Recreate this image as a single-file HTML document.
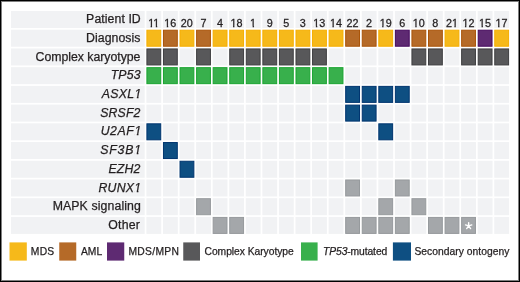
<!DOCTYPE html>
<html><head><meta charset="utf-8"><style>
html,body{margin:0;padding:0;background:#fff;}
body{width:520px;height:282px;overflow:hidden;position:relative;}
svg{position:absolute;left:0;top:0;font-family:"Liberation Sans",sans-serif;will-change:transform;}
text{fill:#231f20;stroke:#231f20;stroke-width:0.25px;}
</style></head><body>
<svg width="520" height="282" viewBox="0 0 520 282">
<rect x="0" y="0" width="520" height="282" fill="#fff"/>
<rect x="11.0" y="11.00" width="133.70" height="17.0" fill="#F1F2F4"/>
<text x="86.12" y="23.10" font-size="12.3" textLength="54.64" lengthAdjust="spacing">Patient ID</text>
<rect x="146.40" y="11.00" width="14.83" height="17.0" fill="#F1F2F4"/>
<text transform="translate(153.72 27.00) scale(1.08 1)" text-anchor="middle" font-size="10.0" stroke="#231f20" stroke-width="0.2">11</text>
<rect x="162.97" y="11.00" width="14.83" height="17.0" fill="#F1F2F4"/>
<text transform="translate(170.28 27.00) scale(1.08 1)" text-anchor="middle" font-size="10.0" stroke="#231f20" stroke-width="0.2">16</text>
<rect x="179.53" y="11.00" width="14.83" height="17.0" fill="#F1F2F4"/>
<text transform="translate(186.84 27.00) scale(1.08 1)" text-anchor="middle" font-size="10.0" stroke="#231f20" stroke-width="0.2">20</text>
<rect x="196.10" y="11.00" width="14.83" height="17.0" fill="#F1F2F4"/>
<text transform="translate(203.41 27.00) scale(1.08 1)" text-anchor="middle" font-size="10.0" stroke="#231f20" stroke-width="0.2">7</text>
<rect x="212.66" y="11.00" width="14.83" height="17.0" fill="#F1F2F4"/>
<text transform="translate(219.98 27.00) scale(1.08 1)" text-anchor="middle" font-size="10.0" stroke="#231f20" stroke-width="0.2">4</text>
<rect x="229.23" y="11.00" width="14.83" height="17.0" fill="#F1F2F4"/>
<text transform="translate(236.54 27.00) scale(1.08 1)" text-anchor="middle" font-size="10.0" stroke="#231f20" stroke-width="0.2">18</text>
<rect x="245.79" y="11.00" width="14.83" height="17.0" fill="#F1F2F4"/>
<text transform="translate(253.11 27.00) scale(1.08 1)" text-anchor="middle" font-size="10.0" stroke="#231f20" stroke-width="0.2">1</text>
<rect x="262.36" y="11.00" width="14.83" height="17.0" fill="#F1F2F4"/>
<text transform="translate(269.67 27.00) scale(1.08 1)" text-anchor="middle" font-size="10.0" stroke="#231f20" stroke-width="0.2">9</text>
<rect x="278.92" y="11.00" width="14.83" height="17.0" fill="#F1F2F4"/>
<text transform="translate(286.24 27.00) scale(1.08 1)" text-anchor="middle" font-size="10.0" stroke="#231f20" stroke-width="0.2">5</text>
<rect x="295.49" y="11.00" width="14.83" height="17.0" fill="#F1F2F4"/>
<text transform="translate(302.80 27.00) scale(1.08 1)" text-anchor="middle" font-size="10.0" stroke="#231f20" stroke-width="0.2">3</text>
<rect x="312.05" y="11.00" width="14.83" height="17.0" fill="#F1F2F4"/>
<text transform="translate(319.37 27.00) scale(1.08 1)" text-anchor="middle" font-size="10.0" stroke="#231f20" stroke-width="0.2">13</text>
<rect x="328.62" y="11.00" width="14.83" height="17.0" fill="#F1F2F4"/>
<text transform="translate(335.93 27.00) scale(1.08 1)" text-anchor="middle" font-size="10.0" stroke="#231f20" stroke-width="0.2">14</text>
<rect x="345.18" y="11.00" width="14.83" height="17.0" fill="#F1F2F4"/>
<text transform="translate(352.50 27.00) scale(1.08 1)" text-anchor="middle" font-size="10.0" stroke="#231f20" stroke-width="0.2">22</text>
<rect x="361.75" y="11.00" width="14.83" height="17.0" fill="#F1F2F4"/>
<text transform="translate(369.06 27.00) scale(1.08 1)" text-anchor="middle" font-size="10.0" stroke="#231f20" stroke-width="0.2">2</text>
<rect x="378.31" y="11.00" width="14.83" height="17.0" fill="#F1F2F4"/>
<text transform="translate(385.63 27.00) scale(1.08 1)" text-anchor="middle" font-size="10.0" stroke="#231f20" stroke-width="0.2">19</text>
<rect x="394.88" y="11.00" width="14.83" height="17.0" fill="#F1F2F4"/>
<text transform="translate(402.19 27.00) scale(1.08 1)" text-anchor="middle" font-size="10.0" stroke="#231f20" stroke-width="0.2">6</text>
<rect x="411.44" y="11.00" width="14.83" height="17.0" fill="#F1F2F4"/>
<text transform="translate(418.76 27.00) scale(1.08 1)" text-anchor="middle" font-size="10.0" stroke="#231f20" stroke-width="0.2">10</text>
<rect x="428.00" y="11.00" width="14.83" height="17.0" fill="#F1F2F4"/>
<text transform="translate(435.32 27.00) scale(1.08 1)" text-anchor="middle" font-size="10.0" stroke="#231f20" stroke-width="0.2">8</text>
<rect x="444.57" y="11.00" width="14.83" height="17.0" fill="#F1F2F4"/>
<text transform="translate(451.89 27.00) scale(1.08 1)" text-anchor="middle" font-size="10.0" stroke="#231f20" stroke-width="0.2">21</text>
<rect x="461.13" y="11.00" width="14.83" height="17.0" fill="#F1F2F4"/>
<text transform="translate(468.45 27.00) scale(1.08 1)" text-anchor="middle" font-size="10.0" stroke="#231f20" stroke-width="0.2">12</text>
<rect x="477.70" y="11.00" width="14.83" height="17.0" fill="#F1F2F4"/>
<text transform="translate(485.02 27.00) scale(1.08 1)" text-anchor="middle" font-size="10.0" stroke="#231f20" stroke-width="0.2">15</text>
<rect x="494.26" y="11.00" width="14.83" height="17.0" fill="#F1F2F4"/>
<text transform="translate(501.58 27.00) scale(1.08 1)" text-anchor="middle" font-size="10.0" stroke="#231f20" stroke-width="0.2">17</text>
<rect x="11.0" y="29.72" width="133.70" height="17.0" fill="#F1F2F4"/>
<text x="86.12" y="41.82" font-size="12.3" textLength="54.38" lengthAdjust="spacing">Diagnosis</text>
<rect x="146.90" y="30.22" width="13.83" height="16.00" fill="#F6B91A" stroke="#f5ae00" stroke-width="1.0"/>
<rect x="163.47" y="30.22" width="13.83" height="16.00" fill="#B56A28" stroke="#aa5408" stroke-width="1.0"/>
<rect x="180.03" y="30.22" width="13.83" height="16.00" fill="#F6B91A" stroke="#f5ae00" stroke-width="1.0"/>
<rect x="196.60" y="30.22" width="13.83" height="16.00" fill="#B56A28" stroke="#aa5408" stroke-width="1.0"/>
<rect x="213.16" y="30.22" width="13.83" height="16.00" fill="#F6B91A" stroke="#f5ae00" stroke-width="1.0"/>
<rect x="229.73" y="30.22" width="13.83" height="16.00" fill="#F6B91A" stroke="#f5ae00" stroke-width="1.0"/>
<rect x="246.29" y="30.22" width="13.83" height="16.00" fill="#F6B91A" stroke="#f5ae00" stroke-width="1.0"/>
<rect x="262.86" y="30.22" width="13.83" height="16.00" fill="#F6B91A" stroke="#f5ae00" stroke-width="1.0"/>
<rect x="279.42" y="30.22" width="13.83" height="16.00" fill="#F6B91A" stroke="#f5ae00" stroke-width="1.0"/>
<rect x="295.99" y="30.22" width="13.83" height="16.00" fill="#F6B91A" stroke="#f5ae00" stroke-width="1.0"/>
<rect x="312.55" y="30.22" width="13.83" height="16.00" fill="#F6B91A" stroke="#f5ae00" stroke-width="1.0"/>
<rect x="329.12" y="30.22" width="13.83" height="16.00" fill="#F6B91A" stroke="#f5ae00" stroke-width="1.0"/>
<rect x="345.68" y="30.22" width="13.83" height="16.00" fill="#B56A28" stroke="#aa5408" stroke-width="1.0"/>
<rect x="362.25" y="30.22" width="13.83" height="16.00" fill="#B56A28" stroke="#aa5408" stroke-width="1.0"/>
<rect x="378.81" y="30.22" width="13.83" height="16.00" fill="#F6B91A" stroke="#f5ae00" stroke-width="1.0"/>
<rect x="395.38" y="30.22" width="13.83" height="16.00" fill="#5E2A72" stroke="#460a5d" stroke-width="1.0"/>
<rect x="411.94" y="30.22" width="13.83" height="16.00" fill="#B56A28" stroke="#aa5408" stroke-width="1.0"/>
<rect x="428.50" y="30.22" width="13.83" height="16.00" fill="#B56A28" stroke="#aa5408" stroke-width="1.0"/>
<rect x="445.07" y="30.22" width="13.83" height="16.00" fill="#F6B91A" stroke="#f5ae00" stroke-width="1.0"/>
<rect x="461.63" y="30.22" width="13.83" height="16.00" fill="#B56A28" stroke="#aa5408" stroke-width="1.0"/>
<rect x="478.20" y="30.22" width="13.83" height="16.00" fill="#5E2A72" stroke="#460a5d" stroke-width="1.0"/>
<rect x="494.76" y="30.22" width="13.83" height="16.00" fill="#F6B91A" stroke="#f5ae00" stroke-width="1.0"/>
<rect x="11.0" y="48.44" width="133.70" height="17.0" fill="#F1F2F4"/>
<text x="35.55" y="60.54" font-size="12.3" textLength="104.90" lengthAdjust="spacing">Complex karyotype</text>
<rect x="146.90" y="48.94" width="13.83" height="16.00" fill="#58585A" stroke="#3f3f41" stroke-width="1.0"/>
<rect x="163.47" y="48.94" width="13.83" height="16.00" fill="#58585A" stroke="#3f3f41" stroke-width="1.0"/>
<rect x="179.53" y="48.44" width="14.83" height="17.0" fill="#F1F2F4"/>
<rect x="196.60" y="48.94" width="13.83" height="16.00" fill="#58585A" stroke="#3f3f41" stroke-width="1.0"/>
<rect x="212.66" y="48.44" width="14.83" height="17.0" fill="#F1F2F4"/>
<rect x="229.73" y="48.94" width="13.83" height="16.00" fill="#58585A" stroke="#3f3f41" stroke-width="1.0"/>
<rect x="246.29" y="48.94" width="13.83" height="16.00" fill="#58585A" stroke="#3f3f41" stroke-width="1.0"/>
<rect x="262.86" y="48.94" width="13.83" height="16.00" fill="#58585A" stroke="#3f3f41" stroke-width="1.0"/>
<rect x="279.42" y="48.94" width="13.83" height="16.00" fill="#58585A" stroke="#3f3f41" stroke-width="1.0"/>
<rect x="295.99" y="48.94" width="13.83" height="16.00" fill="#58585A" stroke="#3f3f41" stroke-width="1.0"/>
<rect x="312.55" y="48.94" width="13.83" height="16.00" fill="#58585A" stroke="#3f3f41" stroke-width="1.0"/>
<rect x="328.62" y="48.44" width="14.83" height="17.0" fill="#F1F2F4"/>
<rect x="345.18" y="48.44" width="14.83" height="17.0" fill="#F1F2F4"/>
<rect x="361.75" y="48.44" width="14.83" height="17.0" fill="#F1F2F4"/>
<rect x="378.31" y="48.44" width="14.83" height="17.0" fill="#F1F2F4"/>
<rect x="394.88" y="48.44" width="14.83" height="17.0" fill="#F1F2F4"/>
<rect x="411.94" y="48.94" width="13.83" height="16.00" fill="#58585A" stroke="#3f3f41" stroke-width="1.0"/>
<rect x="428.50" y="48.94" width="13.83" height="16.00" fill="#58585A" stroke="#3f3f41" stroke-width="1.0"/>
<rect x="444.57" y="48.44" width="14.83" height="17.0" fill="#F1F2F4"/>
<rect x="461.63" y="48.94" width="13.83" height="16.00" fill="#58585A" stroke="#3f3f41" stroke-width="1.0"/>
<rect x="478.20" y="48.94" width="13.83" height="16.00" fill="#58585A" stroke="#3f3f41" stroke-width="1.0"/>
<rect x="494.76" y="48.94" width="13.83" height="16.00" fill="#58585A" stroke="#3f3f41" stroke-width="1.0"/>
<rect x="11.0" y="67.16" width="133.70" height="17.0" fill="#F1F2F4"/>
<text x="110.64" y="79.26" font-size="12.3" textLength="29.84" lengthAdjust="spacing" font-style="italic">TP53</text>
<rect x="146.90" y="67.66" width="13.83" height="16.00" fill="#38B04C" stroke="#1aa431" stroke-width="1.0"/>
<rect x="163.47" y="67.66" width="13.83" height="16.00" fill="#38B04C" stroke="#1aa431" stroke-width="1.0"/>
<rect x="180.03" y="67.66" width="13.83" height="16.00" fill="#38B04C" stroke="#1aa431" stroke-width="1.0"/>
<rect x="196.60" y="67.66" width="13.83" height="16.00" fill="#38B04C" stroke="#1aa431" stroke-width="1.0"/>
<rect x="213.16" y="67.66" width="13.83" height="16.00" fill="#38B04C" stroke="#1aa431" stroke-width="1.0"/>
<rect x="229.73" y="67.66" width="13.83" height="16.00" fill="#38B04C" stroke="#1aa431" stroke-width="1.0"/>
<rect x="246.29" y="67.66" width="13.83" height="16.00" fill="#38B04C" stroke="#1aa431" stroke-width="1.0"/>
<rect x="262.86" y="67.66" width="13.83" height="16.00" fill="#38B04C" stroke="#1aa431" stroke-width="1.0"/>
<rect x="279.42" y="67.66" width="13.83" height="16.00" fill="#38B04C" stroke="#1aa431" stroke-width="1.0"/>
<rect x="295.99" y="67.66" width="13.83" height="16.00" fill="#38B04C" stroke="#1aa431" stroke-width="1.0"/>
<rect x="312.55" y="67.66" width="13.83" height="16.00" fill="#38B04C" stroke="#1aa431" stroke-width="1.0"/>
<rect x="329.12" y="67.66" width="13.83" height="16.00" fill="#38B04C" stroke="#1aa431" stroke-width="1.0"/>
<rect x="345.18" y="67.16" width="14.83" height="17.0" fill="#F1F2F4"/>
<rect x="361.75" y="67.16" width="14.83" height="17.0" fill="#F1F2F4"/>
<rect x="378.31" y="67.16" width="14.83" height="17.0" fill="#F1F2F4"/>
<rect x="394.88" y="67.16" width="14.83" height="17.0" fill="#F1F2F4"/>
<rect x="411.44" y="67.16" width="14.83" height="17.0" fill="#F1F2F4"/>
<rect x="428.00" y="67.16" width="14.83" height="17.0" fill="#F1F2F4"/>
<rect x="444.57" y="67.16" width="14.83" height="17.0" fill="#F1F2F4"/>
<rect x="461.13" y="67.16" width="14.83" height="17.0" fill="#F1F2F4"/>
<rect x="477.70" y="67.16" width="14.83" height="17.0" fill="#F1F2F4"/>
<rect x="494.26" y="67.16" width="14.83" height="17.0" fill="#F1F2F4"/>
<rect x="11.0" y="85.88" width="133.70" height="17.0" fill="#F1F2F4"/>
<text x="101.75" y="97.98" font-size="12.3" textLength="39.51" lengthAdjust="spacing" font-style="italic">ASXL1</text>
<rect x="146.40" y="85.88" width="14.83" height="17.0" fill="#F1F2F4"/>
<rect x="162.97" y="85.88" width="14.83" height="17.0" fill="#F1F2F4"/>
<rect x="179.53" y="85.88" width="14.83" height="17.0" fill="#F1F2F4"/>
<rect x="196.10" y="85.88" width="14.83" height="17.0" fill="#F1F2F4"/>
<rect x="212.66" y="85.88" width="14.83" height="17.0" fill="#F1F2F4"/>
<rect x="229.23" y="85.88" width="14.83" height="17.0" fill="#F1F2F4"/>
<rect x="245.79" y="85.88" width="14.83" height="17.0" fill="#F1F2F4"/>
<rect x="262.36" y="85.88" width="14.83" height="17.0" fill="#F1F2F4"/>
<rect x="278.92" y="85.88" width="14.83" height="17.0" fill="#F1F2F4"/>
<rect x="295.49" y="85.88" width="14.83" height="17.0" fill="#F1F2F4"/>
<rect x="312.05" y="85.88" width="14.83" height="17.0" fill="#F1F2F4"/>
<rect x="328.62" y="85.88" width="14.83" height="17.0" fill="#F1F2F4"/>
<rect x="345.68" y="86.38" width="13.83" height="16.00" fill="#0E4F82" stroke="#00356f" stroke-width="1.0"/>
<rect x="362.25" y="86.38" width="13.83" height="16.00" fill="#0E4F82" stroke="#00356f" stroke-width="1.0"/>
<rect x="378.81" y="86.38" width="13.83" height="16.00" fill="#0E4F82" stroke="#00356f" stroke-width="1.0"/>
<rect x="395.38" y="86.38" width="13.83" height="16.00" fill="#0E4F82" stroke="#00356f" stroke-width="1.0"/>
<rect x="411.44" y="85.88" width="14.83" height="17.0" fill="#F1F2F4"/>
<rect x="428.00" y="85.88" width="14.83" height="17.0" fill="#F1F2F4"/>
<rect x="444.57" y="85.88" width="14.83" height="17.0" fill="#F1F2F4"/>
<rect x="461.13" y="85.88" width="14.83" height="17.0" fill="#F1F2F4"/>
<rect x="477.70" y="85.88" width="14.83" height="17.0" fill="#F1F2F4"/>
<rect x="494.26" y="85.88" width="14.83" height="17.0" fill="#F1F2F4"/>
<rect x="11.0" y="104.60" width="133.70" height="17.0" fill="#F1F2F4"/>
<text x="100.16" y="116.70" font-size="12.3" textLength="40.27" lengthAdjust="spacing" font-style="italic">SRSF2</text>
<rect x="146.40" y="104.60" width="14.83" height="17.0" fill="#F1F2F4"/>
<rect x="162.97" y="104.60" width="14.83" height="17.0" fill="#F1F2F4"/>
<rect x="179.53" y="104.60" width="14.83" height="17.0" fill="#F1F2F4"/>
<rect x="196.10" y="104.60" width="14.83" height="17.0" fill="#F1F2F4"/>
<rect x="212.66" y="104.60" width="14.83" height="17.0" fill="#F1F2F4"/>
<rect x="229.23" y="104.60" width="14.83" height="17.0" fill="#F1F2F4"/>
<rect x="245.79" y="104.60" width="14.83" height="17.0" fill="#F1F2F4"/>
<rect x="262.36" y="104.60" width="14.83" height="17.0" fill="#F1F2F4"/>
<rect x="278.92" y="104.60" width="14.83" height="17.0" fill="#F1F2F4"/>
<rect x="295.49" y="104.60" width="14.83" height="17.0" fill="#F1F2F4"/>
<rect x="312.05" y="104.60" width="14.83" height="17.0" fill="#F1F2F4"/>
<rect x="328.62" y="104.60" width="14.83" height="17.0" fill="#F1F2F4"/>
<rect x="345.68" y="105.10" width="13.83" height="16.00" fill="#0E4F82" stroke="#00356f" stroke-width="1.0"/>
<rect x="362.25" y="105.10" width="13.83" height="16.00" fill="#0E4F82" stroke="#00356f" stroke-width="1.0"/>
<rect x="378.31" y="104.60" width="14.83" height="17.0" fill="#F1F2F4"/>
<rect x="394.88" y="104.60" width="14.83" height="17.0" fill="#F1F2F4"/>
<rect x="411.44" y="104.60" width="14.83" height="17.0" fill="#F1F2F4"/>
<rect x="428.00" y="104.60" width="14.83" height="17.0" fill="#F1F2F4"/>
<rect x="444.57" y="104.60" width="14.83" height="17.0" fill="#F1F2F4"/>
<rect x="461.13" y="104.60" width="14.83" height="17.0" fill="#F1F2F4"/>
<rect x="477.70" y="104.60" width="14.83" height="17.0" fill="#F1F2F4"/>
<rect x="494.26" y="104.60" width="14.83" height="17.0" fill="#F1F2F4"/>
<rect x="11.0" y="123.32" width="133.70" height="17.0" fill="#F1F2F4"/>
<text x="100.66" y="135.42" font-size="12.3" textLength="40.57" lengthAdjust="spacing" font-style="italic">U2AF1</text>
<rect x="146.90" y="123.82" width="13.83" height="16.00" fill="#0E4F82" stroke="#00356f" stroke-width="1.0"/>
<rect x="162.97" y="123.32" width="14.83" height="17.0" fill="#F1F2F4"/>
<rect x="179.53" y="123.32" width="14.83" height="17.0" fill="#F1F2F4"/>
<rect x="196.10" y="123.32" width="14.83" height="17.0" fill="#F1F2F4"/>
<rect x="212.66" y="123.32" width="14.83" height="17.0" fill="#F1F2F4"/>
<rect x="229.23" y="123.32" width="14.83" height="17.0" fill="#F1F2F4"/>
<rect x="245.79" y="123.32" width="14.83" height="17.0" fill="#F1F2F4"/>
<rect x="262.36" y="123.32" width="14.83" height="17.0" fill="#F1F2F4"/>
<rect x="278.92" y="123.32" width="14.83" height="17.0" fill="#F1F2F4"/>
<rect x="295.49" y="123.32" width="14.83" height="17.0" fill="#F1F2F4"/>
<rect x="312.05" y="123.32" width="14.83" height="17.0" fill="#F1F2F4"/>
<rect x="328.62" y="123.32" width="14.83" height="17.0" fill="#F1F2F4"/>
<rect x="345.18" y="123.32" width="14.83" height="17.0" fill="#F1F2F4"/>
<rect x="361.75" y="123.32" width="14.83" height="17.0" fill="#F1F2F4"/>
<rect x="378.81" y="123.82" width="13.83" height="16.00" fill="#0E4F82" stroke="#00356f" stroke-width="1.0"/>
<rect x="394.88" y="123.32" width="14.83" height="17.0" fill="#F1F2F4"/>
<rect x="411.44" y="123.32" width="14.83" height="17.0" fill="#F1F2F4"/>
<rect x="428.00" y="123.32" width="14.83" height="17.0" fill="#F1F2F4"/>
<rect x="444.57" y="123.32" width="14.83" height="17.0" fill="#F1F2F4"/>
<rect x="461.13" y="123.32" width="14.83" height="17.0" fill="#F1F2F4"/>
<rect x="477.70" y="123.32" width="14.83" height="17.0" fill="#F1F2F4"/>
<rect x="494.26" y="123.32" width="14.83" height="17.0" fill="#F1F2F4"/>
<rect x="11.0" y="142.04" width="133.70" height="17.0" fill="#F1F2F4"/>
<text x="100.20" y="154.14" font-size="12.3" textLength="40.95" lengthAdjust="spacing" font-style="italic">SF3B1</text>
<rect x="146.40" y="142.04" width="14.83" height="17.0" fill="#F1F2F4"/>
<rect x="163.47" y="142.54" width="13.83" height="16.00" fill="#0E4F82" stroke="#00356f" stroke-width="1.0"/>
<rect x="179.53" y="142.04" width="14.83" height="17.0" fill="#F1F2F4"/>
<rect x="196.10" y="142.04" width="14.83" height="17.0" fill="#F1F2F4"/>
<rect x="212.66" y="142.04" width="14.83" height="17.0" fill="#F1F2F4"/>
<rect x="229.23" y="142.04" width="14.83" height="17.0" fill="#F1F2F4"/>
<rect x="245.79" y="142.04" width="14.83" height="17.0" fill="#F1F2F4"/>
<rect x="262.36" y="142.04" width="14.83" height="17.0" fill="#F1F2F4"/>
<rect x="278.92" y="142.04" width="14.83" height="17.0" fill="#F1F2F4"/>
<rect x="295.49" y="142.04" width="14.83" height="17.0" fill="#F1F2F4"/>
<rect x="312.05" y="142.04" width="14.83" height="17.0" fill="#F1F2F4"/>
<rect x="328.62" y="142.04" width="14.83" height="17.0" fill="#F1F2F4"/>
<rect x="345.18" y="142.04" width="14.83" height="17.0" fill="#F1F2F4"/>
<rect x="361.75" y="142.04" width="14.83" height="17.0" fill="#F1F2F4"/>
<rect x="378.31" y="142.04" width="14.83" height="17.0" fill="#F1F2F4"/>
<rect x="394.88" y="142.04" width="14.83" height="17.0" fill="#F1F2F4"/>
<rect x="411.44" y="142.04" width="14.83" height="17.0" fill="#F1F2F4"/>
<rect x="428.00" y="142.04" width="14.83" height="17.0" fill="#F1F2F4"/>
<rect x="444.57" y="142.04" width="14.83" height="17.0" fill="#F1F2F4"/>
<rect x="461.13" y="142.04" width="14.83" height="17.0" fill="#F1F2F4"/>
<rect x="477.70" y="142.04" width="14.83" height="17.0" fill="#F1F2F4"/>
<rect x="494.26" y="142.04" width="14.83" height="17.0" fill="#F1F2F4"/>
<rect x="11.0" y="160.76" width="133.70" height="17.0" fill="#F1F2F4"/>
<text x="108.41" y="172.86" font-size="12.3" textLength="32.05" lengthAdjust="spacing" font-style="italic">EZH2</text>
<rect x="146.40" y="160.76" width="14.83" height="17.0" fill="#F1F2F4"/>
<rect x="162.97" y="160.76" width="14.83" height="17.0" fill="#F1F2F4"/>
<rect x="180.03" y="161.26" width="13.83" height="16.00" fill="#0E4F82" stroke="#00356f" stroke-width="1.0"/>
<rect x="196.10" y="160.76" width="14.83" height="17.0" fill="#F1F2F4"/>
<rect x="212.66" y="160.76" width="14.83" height="17.0" fill="#F1F2F4"/>
<rect x="229.23" y="160.76" width="14.83" height="17.0" fill="#F1F2F4"/>
<rect x="245.79" y="160.76" width="14.83" height="17.0" fill="#F1F2F4"/>
<rect x="262.36" y="160.76" width="14.83" height="17.0" fill="#F1F2F4"/>
<rect x="278.92" y="160.76" width="14.83" height="17.0" fill="#F1F2F4"/>
<rect x="295.49" y="160.76" width="14.83" height="17.0" fill="#F1F2F4"/>
<rect x="312.05" y="160.76" width="14.83" height="17.0" fill="#F1F2F4"/>
<rect x="328.62" y="160.76" width="14.83" height="17.0" fill="#F1F2F4"/>
<rect x="345.18" y="160.76" width="14.83" height="17.0" fill="#F1F2F4"/>
<rect x="361.75" y="160.76" width="14.83" height="17.0" fill="#F1F2F4"/>
<rect x="378.31" y="160.76" width="14.83" height="17.0" fill="#F1F2F4"/>
<rect x="394.88" y="160.76" width="14.83" height="17.0" fill="#F1F2F4"/>
<rect x="411.44" y="160.76" width="14.83" height="17.0" fill="#F1F2F4"/>
<rect x="428.00" y="160.76" width="14.83" height="17.0" fill="#F1F2F4"/>
<rect x="444.57" y="160.76" width="14.83" height="17.0" fill="#F1F2F4"/>
<rect x="461.13" y="160.76" width="14.83" height="17.0" fill="#F1F2F4"/>
<rect x="477.70" y="160.76" width="14.83" height="17.0" fill="#F1F2F4"/>
<rect x="494.26" y="160.76" width="14.83" height="17.0" fill="#F1F2F4"/>
<rect x="11.0" y="179.48" width="133.70" height="17.0" fill="#F1F2F4"/>
<text x="98.41" y="191.58" font-size="12.3" textLength="42.76" lengthAdjust="spacing" font-style="italic">RUNX1</text>
<rect x="146.40" y="179.48" width="14.83" height="17.0" fill="#F1F2F4"/>
<rect x="162.97" y="179.48" width="14.83" height="17.0" fill="#F1F2F4"/>
<rect x="179.53" y="179.48" width="14.83" height="17.0" fill="#F1F2F4"/>
<rect x="196.10" y="179.48" width="14.83" height="17.0" fill="#F1F2F4"/>
<rect x="212.66" y="179.48" width="14.83" height="17.0" fill="#F1F2F4"/>
<rect x="229.23" y="179.48" width="14.83" height="17.0" fill="#F1F2F4"/>
<rect x="245.79" y="179.48" width="14.83" height="17.0" fill="#F1F2F4"/>
<rect x="262.36" y="179.48" width="14.83" height="17.0" fill="#F1F2F4"/>
<rect x="278.92" y="179.48" width="14.83" height="17.0" fill="#F1F2F4"/>
<rect x="295.49" y="179.48" width="14.83" height="17.0" fill="#F1F2F4"/>
<rect x="312.05" y="179.48" width="14.83" height="17.0" fill="#F1F2F4"/>
<rect x="328.62" y="179.48" width="14.83" height="17.0" fill="#F1F2F4"/>
<rect x="345.68" y="179.98" width="13.83" height="16.00" fill="#A4A7AA" stroke="#969a9d" stroke-width="1.0"/>
<rect x="361.75" y="179.48" width="14.83" height="17.0" fill="#F1F2F4"/>
<rect x="378.31" y="179.48" width="14.83" height="17.0" fill="#F1F2F4"/>
<rect x="395.38" y="179.98" width="13.83" height="16.00" fill="#A4A7AA" stroke="#969a9d" stroke-width="1.0"/>
<rect x="411.44" y="179.48" width="14.83" height="17.0" fill="#F1F2F4"/>
<rect x="428.00" y="179.48" width="14.83" height="17.0" fill="#F1F2F4"/>
<rect x="444.57" y="179.48" width="14.83" height="17.0" fill="#F1F2F4"/>
<rect x="461.13" y="179.48" width="14.83" height="17.0" fill="#F1F2F4"/>
<rect x="477.70" y="179.48" width="14.83" height="17.0" fill="#F1F2F4"/>
<rect x="494.26" y="179.48" width="14.83" height="17.0" fill="#F1F2F4"/>
<rect x="11.0" y="198.20" width="133.70" height="17.0" fill="#F1F2F4"/>
<text x="52.63" y="210.30" font-size="12.3" textLength="88.25" lengthAdjust="spacing">MAPK signaling</text>
<rect x="146.40" y="198.20" width="14.83" height="17.0" fill="#F1F2F4"/>
<rect x="162.97" y="198.20" width="14.83" height="17.0" fill="#F1F2F4"/>
<rect x="179.53" y="198.20" width="14.83" height="17.0" fill="#F1F2F4"/>
<rect x="196.60" y="198.70" width="13.83" height="16.00" fill="#A4A7AA" stroke="#969a9d" stroke-width="1.0"/>
<rect x="212.66" y="198.20" width="14.83" height="17.0" fill="#F1F2F4"/>
<rect x="229.23" y="198.20" width="14.83" height="17.0" fill="#F1F2F4"/>
<rect x="245.79" y="198.20" width="14.83" height="17.0" fill="#F1F2F4"/>
<rect x="262.36" y="198.20" width="14.83" height="17.0" fill="#F1F2F4"/>
<rect x="278.92" y="198.20" width="14.83" height="17.0" fill="#F1F2F4"/>
<rect x="295.49" y="198.20" width="14.83" height="17.0" fill="#F1F2F4"/>
<rect x="312.05" y="198.20" width="14.83" height="17.0" fill="#F1F2F4"/>
<rect x="328.62" y="198.20" width="14.83" height="17.0" fill="#F1F2F4"/>
<rect x="345.18" y="198.20" width="14.83" height="17.0" fill="#F1F2F4"/>
<rect x="361.75" y="198.20" width="14.83" height="17.0" fill="#F1F2F4"/>
<rect x="378.81" y="198.70" width="13.83" height="16.00" fill="#A4A7AA" stroke="#969a9d" stroke-width="1.0"/>
<rect x="394.88" y="198.20" width="14.83" height="17.0" fill="#F1F2F4"/>
<rect x="411.94" y="198.70" width="13.83" height="16.00" fill="#A4A7AA" stroke="#969a9d" stroke-width="1.0"/>
<rect x="428.00" y="198.20" width="14.83" height="17.0" fill="#F1F2F4"/>
<rect x="444.57" y="198.20" width="14.83" height="17.0" fill="#F1F2F4"/>
<rect x="461.13" y="198.20" width="14.83" height="17.0" fill="#F1F2F4"/>
<rect x="477.70" y="198.20" width="14.83" height="17.0" fill="#F1F2F4"/>
<rect x="494.26" y="198.20" width="14.83" height="17.0" fill="#F1F2F4"/>
<rect x="11.0" y="216.92" width="133.70" height="17.0" fill="#F1F2F4"/>
<text x="108.35" y="229.02" font-size="12.3" textLength="31.54" lengthAdjust="spacing">Other</text>
<rect x="146.40" y="216.92" width="14.83" height="17.0" fill="#F1F2F4"/>
<rect x="162.97" y="216.92" width="14.83" height="17.0" fill="#F1F2F4"/>
<rect x="179.53" y="216.92" width="14.83" height="17.0" fill="#F1F2F4"/>
<rect x="196.10" y="216.92" width="14.83" height="17.0" fill="#F1F2F4"/>
<rect x="213.16" y="217.42" width="13.83" height="16.00" fill="#A4A7AA" stroke="#969a9d" stroke-width="1.0"/>
<rect x="229.73" y="217.42" width="13.83" height="16.00" fill="#A4A7AA" stroke="#969a9d" stroke-width="1.0"/>
<rect x="245.79" y="216.92" width="14.83" height="17.0" fill="#F1F2F4"/>
<rect x="262.36" y="216.92" width="14.83" height="17.0" fill="#F1F2F4"/>
<rect x="278.92" y="216.92" width="14.83" height="17.0" fill="#F1F2F4"/>
<rect x="295.49" y="216.92" width="14.83" height="17.0" fill="#F1F2F4"/>
<rect x="312.05" y="216.92" width="14.83" height="17.0" fill="#F1F2F4"/>
<rect x="328.62" y="216.92" width="14.83" height="17.0" fill="#F1F2F4"/>
<rect x="345.68" y="217.42" width="13.83" height="16.00" fill="#A4A7AA" stroke="#969a9d" stroke-width="1.0"/>
<rect x="362.25" y="217.42" width="13.83" height="16.00" fill="#A4A7AA" stroke="#969a9d" stroke-width="1.0"/>
<rect x="378.81" y="217.42" width="13.83" height="16.00" fill="#A4A7AA" stroke="#969a9d" stroke-width="1.0"/>
<rect x="395.38" y="217.42" width="13.83" height="16.00" fill="#A4A7AA" stroke="#969a9d" stroke-width="1.0"/>
<rect x="411.44" y="216.92" width="14.83" height="17.0" fill="#F1F2F4"/>
<rect x="428.50" y="217.42" width="13.83" height="16.00" fill="#A4A7AA" stroke="#969a9d" stroke-width="1.0"/>
<rect x="445.07" y="217.42" width="13.83" height="16.00" fill="#A4A7AA" stroke="#969a9d" stroke-width="1.0"/>
<rect x="461.63" y="217.42" width="13.83" height="16.00" fill="#A4A7AA" stroke="#969a9d" stroke-width="1.0"/>
<rect x="477.70" y="216.92" width="14.83" height="17.0" fill="#F1F2F4"/>
<rect x="494.26" y="216.92" width="14.83" height="17.0" fill="#F1F2F4"/>
<path d="M468.65 225.92 L468.65 222.62 M468.65 225.92 L471.79 224.90 M468.65 225.92 L470.59 228.59 M468.65 225.92 L466.71 228.59 M468.65 225.92 L465.51 224.90" stroke="#fff" stroke-width="1.4" stroke-linecap="round" fill="none"/>
<rect x="9.5" y="242.4" width="17.30" height="18.2" fill="#F6B91A"/>
<text x="30.80" y="255.0" font-size="10.3" textLength="23.40" lengthAdjust="spacing">MDS</text>
<rect x="59.25" y="242.4" width="17.00" height="18.2" fill="#B56A28"/>
<text x="80.98" y="255.0" font-size="10.3" textLength="21.19" lengthAdjust="spacing">AML</text>
<rect x="107" y="242.4" width="17.25" height="18.2" fill="#5E2A72"/>
<text x="128.40" y="255.0" font-size="10.3" textLength="50.52" lengthAdjust="spacing">MDS/MPN</text>
<rect x="183.25" y="242.4" width="16.75" height="18.2" fill="#58585A"/>
<text x="204.54" y="255.0" font-size="10.3" textLength="89.21" lengthAdjust="spacing">Complex Karyotype</text>
<rect x="301" y="242.4" width="16.60" height="18.2" fill="#38B04C"/>
<text x="323.05" y="255.0" font-size="10.3" textLength="64.2" lengthAdjust="spacing"><tspan font-style="italic">TP53</tspan>-mutated</text>
<rect x="392.9" y="242.4" width="18.10" height="18.2" fill="#0E4F82"/>
<text x="414.40" y="255.0" font-size="10.3" textLength="95.07" lengthAdjust="spacing">Secondary ontogeny</text>
<rect x="148.00" y="25.85" width="2.60" height="2.15" fill="#F1F2F4"/>
<rect x="152.05" y="25.85" width="1.95" height="2.15" fill="#F1F2F4"/>
<rect x="153.00" y="25.85" width="2.79" height="2.15" fill="#F1F2F4"/>
<rect x="157.24" y="25.85" width="1.76" height="2.15" fill="#F1F2F4"/>
<rect x="164.00" y="25.85" width="2.76" height="2.15" fill="#F1F2F4"/>
<rect x="168.21" y="25.85" width="1.79" height="2.15" fill="#F1F2F4"/>
<rect x="231.00" y="25.85" width="2.02" height="2.15" fill="#F1F2F4"/>
<rect x="234.47" y="25.85" width="2.38" height="2.15" fill="#F1F2F4"/>
<rect x="250.00" y="25.85" width="2.59" height="2.15" fill="#F1F2F4"/>
<rect x="254.04" y="25.85" width="1.96" height="2.15" fill="#F1F2F4"/>
<rect x="314.00" y="25.85" width="1.85" height="2.15" fill="#F1F2F4"/>
<rect x="317.30" y="25.85" width="1.70" height="2.15" fill="#F1F2F4"/>
<rect x="330.00" y="25.85" width="2.41" height="2.15" fill="#F1F2F4"/>
<rect x="333.86" y="25.85" width="2.14" height="2.15" fill="#F1F2F4"/>
<rect x="380.00" y="25.85" width="2.11" height="2.15" fill="#F1F2F4"/>
<rect x="383.56" y="25.85" width="2.38" height="2.15" fill="#F1F2F4"/>
<rect x="413.00" y="25.85" width="2.24" height="2.15" fill="#F1F2F4"/>
<rect x="416.69" y="25.85" width="2.31" height="2.15" fill="#F1F2F4"/>
<rect x="452.00" y="25.85" width="2.35" height="2.15" fill="#F1F2F4"/>
<rect x="455.80" y="25.85" width="2.20" height="2.15" fill="#F1F2F4"/>
<rect x="463.00" y="25.85" width="1.93" height="2.15" fill="#F1F2F4"/>
<rect x="466.38" y="25.85" width="2.38" height="2.15" fill="#F1F2F4"/>
<rect x="479.00" y="25.85" width="2.50" height="2.15" fill="#F1F2F4"/>
<rect x="482.95" y="25.85" width="2.05" height="2.15" fill="#F1F2F4"/>
<rect x="496.00" y="25.85" width="2.06" height="2.15" fill="#F1F2F4"/>
<rect x="499.51" y="25.85" width="2.38" height="2.15" fill="#F1F2F4"/>
<rect x="134.24" y="96.85" width="2.58" height="2.15" fill="#F1F2F4"/>
<rect x="138.50" y="96.85" width="2.82" height="2.15" fill="#F1F2F4"/>
<rect x="134.21" y="133.85" width="2.58" height="2.15" fill="#F1F2F4"/>
<rect x="138.47" y="133.85" width="2.82" height="2.15" fill="#F1F2F4"/>
<rect x="134.13" y="152.85" width="2.58" height="2.15" fill="#F1F2F4"/>
<rect x="138.39" y="152.85" width="2.82" height="2.15" fill="#F1F2F4"/>
<rect x="134.15" y="190.85" width="2.58" height="2.15" fill="#F1F2F4"/>
<rect x="138.41" y="190.85" width="2.82" height="2.15" fill="#F1F2F4"/>
<rect x="0.5" y="0.5" width="519" height="281" fill="none" stroke="#000" stroke-width="1"/>
<rect x="1.5" y="1.5" width="517" height="279" fill="none" stroke="#000" stroke-opacity="0.5" stroke-width="1"/>
</svg>
</body></html>
